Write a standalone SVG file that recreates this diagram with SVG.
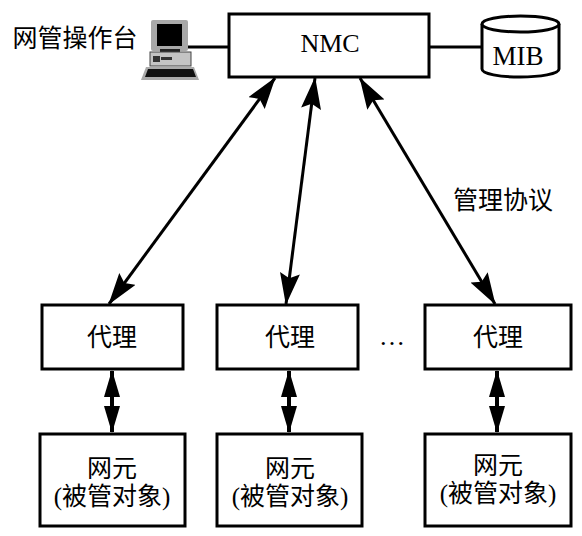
<svg xmlns="http://www.w3.org/2000/svg" width="582" height="536" viewBox="0 0 582 536">
<style>
.b{fill:#fff;stroke:#000;stroke-width:3}
.l{fill:none;stroke:#000;stroke-width:3}
.t{stroke-width:4}
.h{fill:#000;stroke:none}
text{font-family:"Liberation Serif","Noto Sans CJK SC",serif;font-size:26px;fill:#000;text-anchor:middle}
.c{font-size:25px}
.m{font-size:27px}
</style>
<defs>
<marker id="a" viewBox="0 0 32 20" refX="31" refY="10" markerWidth="32" markerHeight="20" markerUnits="userSpaceOnUse" orient="auto-start-reverse"><path d="M0 0L32 10L0 20L5 10Z" class="h"/></marker>
<marker id="s" viewBox="0 0 27 16" refX="26" refY="8" markerWidth="27" markerHeight="16" markerUnits="userSpaceOnUse" orient="auto-start-reverse"><path d="M0 0L27 8L0 16Z" class="h"/></marker>
</defs>
<g id="connectors">
<path class="l" d="M187 47H229M430 47H482"/>
<path class="l" d="M275 78L109 304" marker-start="url(#a)" marker-end="url(#a)"/>
<path class="l" d="M315 78L286 304" marker-start="url(#a)" marker-end="url(#a)"/>
<path class="l" d="M360 78L495 304" marker-start="url(#a)" marker-end="url(#a)"/>
<path class="l t" d="M112 371V432" marker-start="url(#s)" marker-end="url(#s)"/>
<path class="l t" d="M289 371V432" marker-start="url(#s)" marker-end="url(#s)"/>
<path class="l t" d="M497 371V432" marker-start="url(#s)" marker-end="url(#s)"/>
</g>
<g id="op-label"><text class="c" x="75" y="47">网管操作台</text></g>
<g id="workstation">
<rect x="151" y="20" width="37" height="31" rx="2" fill="#a8a8a8"/>
<rect x="157" y="24" width="25" height="22" fill="#000"/>
<rect x="160" y="49" width="20" height="4" fill="#222"/>
<rect x="150" y="52" width="41" height="14" fill="#c4c4c4" stroke="#444"/>
<rect x="153" y="56" width="7" height="6" fill="#333"/>
<rect x="161" y="57" width="11" height="3" fill="#333"/>
<path d="M146 67H194L199 80H141Z" fill="#aaa"/>
<path d="M148 69H193L196 77H145Z" fill="#111"/>
</g>
<g id="nmc"><rect class="b" x="229" y="14" width="200" height="63"/><text x="330" y="52">NMC</text></g>
<g id="mib">
<path class="b" d="M482 24V69C482 74 500 77 520 77S559 74 559 69V24"/>
<ellipse class="b" cx="520.500" cy="24" rx="38.500" ry="8"/>
<text class="m" x="518" y="65">MIB</text>
</g>
<g id="proto-label"><text class="c" x="503" y="209">管理协议</text></g>
<g id="agent1"><rect class="b" x="42" y="305" width="141" height="64"/><text class="c" x="112" y="346">代理</text></g>
<g id="agent2"><rect class="b" x="217" y="305" width="141" height="64"/><text class="c" x="290" y="346">代理</text></g>
<g id="dots"><text x="392" y="345">…</text></g>
<g id="agent3"><rect class="b" x="425" y="305" width="146" height="64"/><text class="c" x="498" y="346">代理</text></g>
<g id="ne1"><rect class="b" x="40" y="434" width="145" height="92"/><text class="c" x="112" y="477">网元</text><text class="c" x="112" y="505">(被管对象)</text></g>
<g id="ne2"><rect class="b" x="217" y="434" width="145" height="92"/><text class="c" x="290" y="477">网元</text><text class="c" x="290" y="505">(被管对象)</text></g>
<g id="ne3"><rect class="b" x="425" y="434" width="146" height="92"/><text class="c" x="498" y="474">网元</text><text class="c" x="498" y="502">(被管对象)</text></g>
</svg>
